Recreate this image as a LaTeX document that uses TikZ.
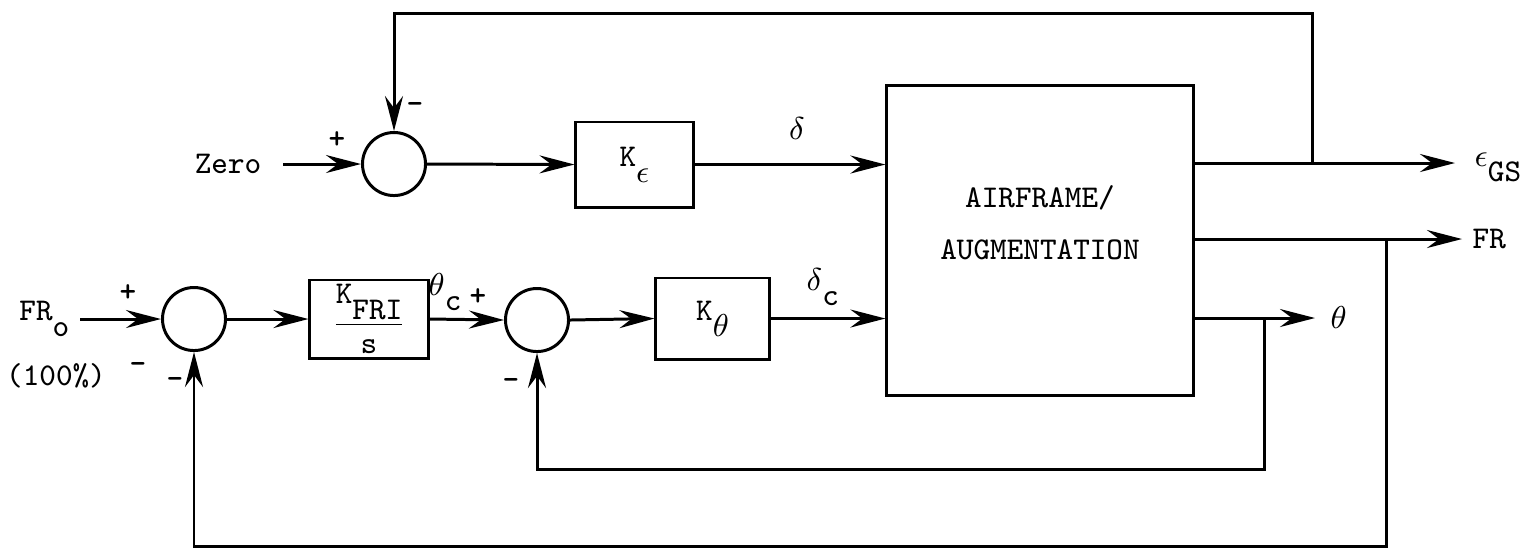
\documentclass[tikz,border=0pt]{standalone}
\usepackage{tikz}
\usetikzlibrary{arrows.meta}
\newcommand{\labelfont}{\ttfamily\fontsize{9}{10.5}\selectfont}
\newcommand{\tsub}[1]{\raisebox{-4.5pt}{#1}}
\tikzset{
    sumnode/.style={draw,circle,line width=0.85pt,minimum size=0.63cm,inner sep=0pt},
    gainbox/.style={draw,line width=0.85pt,inner sep=0pt,align=center,font=\labelfont},
    sig/.style={-{Stealth[length=3.5mm,width=1.8mm,inset=1.2mm]},line width=0.85pt},
    txt/.style={inner sep=0pt,font=\labelfont},
    signmark/.style={inner sep=0pt,font=\labelfont\bfseries}
}

\begin{document}
\begin{tikzpicture}[x=0.01cm,y=-0.01cm]
    \useasboundingbox (0,0) rectangle (1528,547);
    \node[sumnode] (s1) at (394,164) {};
    \node[gainbox,minimum width=1.17cm,minimum height=0.85cm] (keps) at (634.5,164.5) {K\tsub{$\epsilon$}};
    \node[gainbox,minimum width=3.06cm,minimum height=3.09cm] (air) at (1040,240.5)
        {AIRFRAME/\\[1.5mm]AUGMENTATION\\\mbox{}};
    \node[sumnode] (s2) at (194,319) {};
    \node[gainbox,minimum width=1.18cm,minimum height=0.78cm] (kfri) at (369,319)
        {$\displaystyle\frac{\mbox{K\tsub{FRI}}}{\mbox{s}}$};
    \node[sumnode] (s3) at (537,320) {};
    \node[gainbox,minimum width=1.13cm,minimum height=0.81cm] (kth) at (712.5,318.5) {K\tsub{$\theta$}};

    \node[txt,inner xsep=0.21cm,anchor=east] (zero) at (283,164) {Zero};
    \node[txt,inner xsep=0.1cm,anchor=east] (fro) at (80,319) {FR\tsub{o}};
    \node[txt] (pct) at (56,376) {(100\%)};
    \node[txt] (dl) at (797,128) {$\delta$};
    \node[txt,anchor=base west] (dcl) at (806,290) {$\delta$\tsub{c}};
    \node[txt,anchor=base west] (thcl) at (428,295) {$\theta$\tsub{c}};
    \node[txt,anchor=base west] (egs) at (1474,166) {$\epsilon$\tsub{GS}};
    \node[txt,anchor=west] (frout) at (1472,239) {FR};
    \node[txt,anchor=west] (thout) at (1330,317) {$\theta$};

    \node[signmark] (p1) at (337,140) {+};
    \node[signmark] (m1) at (415,108) {-};
    \node[signmark] (p2) at (128,293) {+};
    \node[signmark] (m2a) at (138,368) {-};
    \node[signmark] (m2) at (175,383) {-};
    \node[signmark] (p3) at (478,297) {+};
    \node[signmark] (m3) at (511,384) {-};

    \coordinate (egsend) at (1455,163);
    \coordinate (frend) at (1462,239);
    \coordinate (thend) at (1315,318);
    \coordinate (b1) at (1312,163);
    \coordinate (c1) at (1312,13);
    \coordinate (b2) at (1386,239);
    \coordinate (c2) at (1386,546);
    \coordinate (b3) at (1264,318);
    \coordinate (c3) at (1264,469);

    \draw[sig] (zero.east) -- (s1.west);
    \draw[sig] (s1.east) -- (keps.west);
    \draw[sig] (keps.east) -- (air.west |- keps.east);
    \draw[sig] (fro.east) -- (s2.west);
    \draw[sig] (s2.east) -- (kfri.west);
    \draw[sig] (kfri.east) -- (s3.west);
    \draw[sig] (s3.east) -- (kth.west);
    \draw[sig] (kth.east) -- (air.west |- kth.east);
    \draw[sig] (air.east |- b1) -- (egsend);
    \draw[sig] (air.east |- b2) -- (frend);
    \draw[sig] (air.east |- b3) -- (thend);
    \draw[sig] (b1) -- (c1) -| (s1.north);
    \draw[sig] (b2) -- (c2) -| (s2.south);
    \draw[sig] (b3) -- (c3) -| (s3.south);
\end{tikzpicture}
\end{document}
